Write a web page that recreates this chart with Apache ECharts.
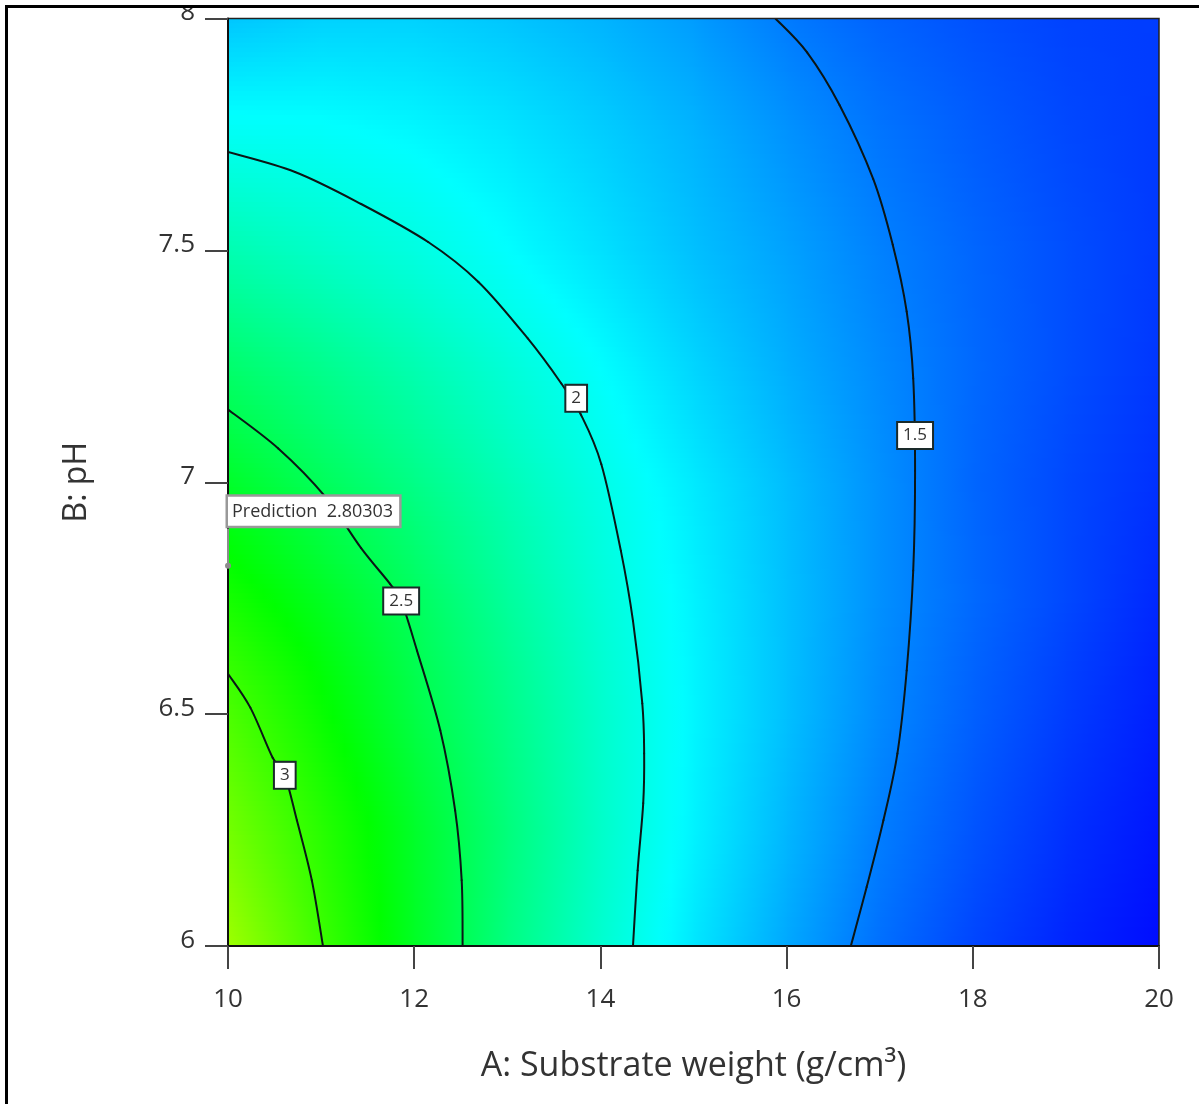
<!DOCTYPE html>
<html>
<head>
<meta charset="utf-8">
<script src="https://cdn.jsdelivr.net/npm/echarts@6/dist/echarts.min.js"></script>
<style>
  html, body { margin: 0; padding: 0; background: #fff; }
  #chart { width: 1199px; height: 1104px; }
</style>
</head>
<body>
<div id="chart"></div>
<script>
// Factor levels of the predicted-response grid
const substrateWeight = [10, 11, 12, 13, 14, 15, 16, 17, 18, 19, 20];
const phLevels = [6.0, 6.25, 6.5, 6.75, 7.0, 7.25, 7.5, 7.75, 8.0];

// Predicted response, one row per pH level (same order as phLevels)
const response = [
  [3.38, 3.01, 2.66, 2.35, 2.09, 1.85, 1.64, 1.45, 1.31, 1.20, 1.12],
  [3.22, 2.93, 2.64, 2.37, 2.11, 1.89, 1.69, 1.50, 1.36, 1.24, 1.15],
  [3.07, 2.81, 2.55, 2.33, 2.10, 1.90, 1.72, 1.54, 1.40, 1.28, 1.18],
  [2.86, 2.67, 2.47, 2.26, 2.06, 1.89, 1.72, 1.56, 1.43, 1.32, 1.21],
  [2.64, 2.48, 2.33, 2.17, 2.01, 1.86, 1.71, 1.56, 1.42, 1.32, 1.24],
  [2.42, 2.31, 2.19, 2.06, 1.93, 1.79, 1.66, 1.54, 1.43, 1.34, 1.26],
  [2.19, 2.11, 2.03, 1.93, 1.83, 1.72, 1.62, 1.51, 1.42, 1.34, 1.27],
  [1.97, 1.95, 1.91, 1.85, 1.77, 1.68, 1.57, 1.47, 1.39, 1.32, 1.27],
  [1.74, 1.78, 1.78, 1.74, 1.68, 1.60, 1.49, 1.41, 1.35, 1.30, 1.28]
];

// Contour lines, [substrate weight, pH]
const contour3 = [[10, 6.587], [10.24, 6.514], [10.48, 6.406], [10.61, 6.368], [10.74, 6.271], [10.90, 6.142], [11.02, 6.0]];
const contour25 = [[10, 7.157], [10.54, 7.073], [11.04, 6.970], [11.43, 6.858], [11.74, 6.781], [11.86, 6.744], [12.03, 6.637], [12.28, 6.465], [12.44, 6.292], [12.51, 6.142], [12.52, 6.0]];
const contour2 = [[10, 7.712], [10.72, 7.669], [11.43, 7.600], [12.15, 7.518], [12.69, 7.432], [13.22, 7.310], [13.58, 7.213], [13.79, 7.146], [14.01, 7.039], [14.22, 6.852], [14.35, 6.701], [14.45, 6.523], [14.47, 6.415], [14.46, 6.308], [14.40, 6.163], [14.35, 6.0]];
const contour15 = [[15.88, 8.0], [16.22, 7.927], [16.57, 7.813], [16.93, 7.654], [17.14, 7.512], [17.29, 7.368], [17.36, 7.224], [17.38, 7.024], [17.36, 6.809], [17.29, 6.594], [17.19, 6.415], [17.04, 6.271], [16.86, 6.127], [16.69, 6.0]];

// Contour level tags: [substrate weight, pH, level]
const contourLabels = [[10.61, 6.368, '3'], [11.86, 6.744, '2.5'], [13.74, 7.181, '2'], [17.38, 7.101, '1.5']];

// Flagged prediction point: [substrate weight, pH, predicted value]
const prediction = [10, 6.82, 2.80303];

// Axis ticks
const xTicks = { min: 10, max: 20, step: 2 };
const yTicks = { min: 6, max: 8, step: 0.5 };

// Response colour ramp (blue -> cyan -> green -> yellow -> red)
const rampValues = [1.08, 1.93, 2.78, 3.75, 4.7];
const rampColors = ['#0000ff', '#00ffff', '#00ff00', '#ffff00', '#ff0000'];

function valueColor(v) {
  if (v <= rampValues[0]) return rampColors[0];
  for (let k = 0; k < rampValues.length - 1; k++) {
    if (v <= rampValues[k + 1]) {
      const t = (v - rampValues[k]) / (rampValues[k + 1] - rampValues[k]);
      return echarts.color.lerp(t, [rampColors[k], rampColors[k + 1]]);
    }
  }
  return rampColors[rampColors.length - 1];
}

// One item per grid cell: lower-left corner plus its indices
const cells = [];
for (let j = 0; j < phLevels.length - 1; j++) {
  for (let i = 0; i < substrateWeight.length - 1; i++) {
    cells.push([substrateWeight[i], phLevels[j], i, j]);
  }
}

// Shade a cell by blending its four corner responses
function renderCell(params, api) {
  const i = api.value(2), j = api.value(3);
  const topLeft = api.coord([substrateWeight[i], phLevels[j + 1]]);
  const bottomRight = api.coord([substrateWeight[i + 1], phLevels[j]]);
  const w = bottomRight[0] - topLeft[0];
  const h = bottomRight[1] - topLeft[1];
  const v00 = response[j][i], v10 = response[j][i + 1];
  const v01 = response[j + 1][i], v11 = response[j + 1][i + 1];
  const strips = 24, stops = 8;
  const children = [];
  for (let s = 0; s < strips; s++) {
    const fy = 1 - (s + 0.5) / strips;
    const left = v00 + (v01 - v00) * fy;
    const right = v10 + (v11 - v10) * fy;
    const cs = [];
    for (let k = 0; k <= stops; k++) {
      const t = k / stops;
      cs.push({ offset: t, color: valueColor(left + (right - left) * t) });
    }
    children.push({
      type: 'rect',
      shape: { x: topLeft[0], y: topLeft[1] + h * s / strips, width: w + 1, height: h / strips + 1 },
      style: { fill: new echarts.graphic.LinearGradient(0, 0, 1, 0, cs) },
      silent: true
    });
  }
  return { type: 'group', children: children };
}

// Contour curves drawn as Catmull-Rom splines through their points
const contours = [contour3, contour25, contour2, contour15];

function renderContour(params, api) {
  const pts = contours[api.value(2)].map(function (p) { return api.coord(p); });
  const children = [];
  for (let i = 0; i < pts.length - 1; i++) {
    const p0 = pts[Math.max(i - 1, 0)], p1 = pts[i], p2 = pts[i + 1], p3 = pts[Math.min(i + 2, pts.length - 1)];
    children.push({
      type: 'bezierCurve',
      shape: {
        x1: p1[0], y1: p1[1], x2: p2[0], y2: p2[1],
        cpx1: p1[0] + (p2[0] - p0[0]) / 6, cpy1: p1[1] + (p2[1] - p0[1]) / 6,
        cpx2: p2[0] - (p3[0] - p1[0]) / 6, cpy2: p2[1] - (p3[1] - p1[1]) / 6
      },
      style: { fill: null, stroke: '#0b1616', lineWidth: 2, lineCap: 'round' },
      silent: true
    });
  }
  return { type: 'group', children: children };
}

const FONT = '"Open Sans", "Noto Sans", sans-serif';

const chart = echarts.init(document.getElementById('chart'), null, { renderer: 'canvas' });

chart.setOption({
  animation: false,
  backgroundColor: '#fff',
  grid: {
    left: 228, top: 16, width: 931, height: 930,
    show: true, borderColor: '#222', borderWidth: 1.5, z: 10
  },
  xAxis: {
    type: 'value',
    min: xTicks.min, max: xTicks.max, interval: xTicks.step,
    z: 10,
    name: 'A: Substrate weight (g/cm³)',
    nameLocation: 'middle',
    nameGap: 103,
    nameTextStyle: { fontSize: 34, color: '#333', fontFamily: FONT },
    axisLine: { show: true, onZero: false, lineStyle: { color: '#111', width: 2 } },
    axisTick: { show: true, length: 23, lineStyle: { color: '#444', width: 2 } },
    axisLabel: { margin: 41, fontSize: 26, color: '#333', fontFamily: FONT },
    splitLine: { show: false }
  },
  yAxis: {
    type: 'value',
    min: yTicks.min, max: yTicks.max, interval: yTicks.step,
    z: 10,
    name: 'B: pH',
    nameLocation: 'middle',
    nameGap: 135,
    nameRotate: 90,
    nameTextStyle: { fontSize: 32, color: '#333', fontFamily: FONT },
    axisLine: { show: true, onZero: false, lineStyle: { color: '#111', width: 2 } },
    axisTick: { show: true, length: 23, lineStyle: { color: '#444', width: 2 } },
    axisLabel: { margin: 33, fontSize: 26, color: '#333', fontFamily: FONT, verticalAlign: 'bottom', lineHeight: 11 },
    splitLine: { show: false }
  },
  series: [
    {
      type: 'custom',
      data: cells,
      renderItem: renderCell,
      clip: true,
      silent: true,
      z: 1
    },
    {
      type: 'custom',
      data: contours.map(function (c, k) { return [c[0][0], c[0][1], k]; }),
      renderItem: renderContour,
      clip: true,
      silent: true,
      z: 4
    },
    {
      type: 'scatter',
      data: contourLabels,
      symbolSize: 1,
      z: 6,
      silent: true,
      itemStyle: { color: '#fff', opacity: 1 },
      label: {
        show: true,
        position: 'inside',
        formatter: function (p) { return p.value[2]; },
        fontSize: 17,
        lineHeight: 20,
        color: '#333',
        fontFamily: FONT,
        backgroundColor: '#fff',
        borderColor: '#1a2a2a',
        borderWidth: 2,
        padding: [3, 5, 2, 5]
      }
    },
    {
      type: 'line',
      data: [[prediction[0], prediction[1]], [prediction[0], prediction[1] + 0.08]],
      symbol: 'none',
      z: 12,
      clip: false,
      silent: true,
      lineStyle: { color: '#8c8c8c', width: 2 }
    },
    {
      type: 'scatter',
      data: [prediction],
      symbol: 'circle',
      symbolSize: 6,
      z: 13,
      silent: true,
      clip: false,
      itemStyle: { color: '#8c8c8c', opacity: 1 },
      label: {
        show: true,
        position: [3, -66],
        align: 'left',
        verticalAlign: 'top',
        formatter: function (p) { return 'Prediction  ' + p.value[2]; },
        fontSize: 18,
        lineHeight: 22,
        color: '#333',
        fontFamily: FONT,
        backgroundColor: '#fff',
        borderColor: '#999',
        borderWidth: 2.5,
        padding: [4, 6, 3, 4]
      }
    }
  ],
  graphic: [
    { type: 'rect', z: 100, shape: { x: 0, y: 0, width: 1199, height: 6 }, style: { fill: '#fff' }, silent: true },
    { type: 'rect', z: 100, shape: { x: 0, y: 0, width: 6, height: 1104 }, style: { fill: '#fff' }, silent: true },
    { type: 'rect', z: 101, shape: { x: 5, y: 5, width: 1194, height: 3 }, style: { fill: '#000' }, silent: true },
    { type: 'rect', z: 101, shape: { x: 5, y: 5, width: 3, height: 1099 }, style: { fill: '#000' }, silent: true }
  ]
});
</script>
</body>
</html>
